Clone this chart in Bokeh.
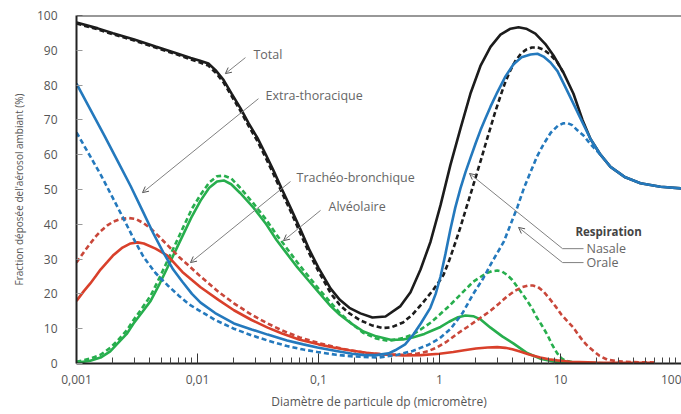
from bokeh.plotting import figure
from bokeh.models import FixedTicker, Label, Arrow, OpenHead, Span
from bokeh.embed import file_html
from bokeh.resources import INLINE

# ---------------- data (diameter in micrometres, deposited fraction in %) ----------------
TOTAL_NASAL_D = [0.001, 0.0015, 0.002, 0.003, 0.0045, 0.0065, 0.0088, 0.0105, 0.0123, 0.0141, 0.0164,
                 0.0192, 0.0227, 0.0265, 0.0312, 0.0365, 0.0424, 0.05, 0.0587, 0.071, 0.0845, 0.1, 0.126,
                 0.15, 0.18, 0.222, 0.279, 0.358, 0.476, 0.576, 0.697, 0.843, 1.02, 1.23, 1.49, 1.8,
                 2.18, 2.64, 3.19, 3.86, 4.5, 5.2, 6.2, 7.5, 8.75, 10.6, 12.8, 15.2, 17.7, 21.4, 25.9,
                 34.3, 45.8, 67, 100]
TOTAL_NASAL_Y = [98, 96.3, 94.9, 93.1, 91.1, 89.3, 87.8, 87, 86.2, 84.3, 81.5,
                 77.5, 73.3, 69, 64.9, 60.2, 55.5, 50, 44.8, 38.5, 32.5, 27.5, 21.5,
                 18.3, 16, 14.4, 13.2, 13.5, 16.5, 20.5, 27, 35, 45.5, 57, 67.5, 77.5,
                 85.5, 91, 94.5, 96.2, 96.6, 96.2, 94.8, 91.8, 88.5, 83.5, 77.5, 70, 64.5, 60, 56.5,
                 53.5, 51.8, 50.8, 50.3]

TOTAL_ORAL_D = [0.001, 0.0015, 0.002, 0.003, 0.0045, 0.0065, 0.0088, 0.0105, 0.0123, 0.0141, 0.0164,
                0.0192, 0.0227, 0.0265, 0.0312, 0.0365, 0.0424, 0.05, 0.0587, 0.071, 0.0845, 0.1, 0.126,
                0.15, 0.18, 0.222, 0.279, 0.34, 0.4, 0.5, 0.6, 0.73, 0.88, 1.0, 1.08, 1.2, 1.36, 1.5,
                1.64, 1.8, 1.99, 2.2, 2.4, 2.65, 2.9, 3.2, 3.51, 3.86, 4.25, 4.7, 5.2, 5.8, 6.5, 7.24,
                8.2, 9.44, 10.6]
TOTAL_ORAL_Y = [97.7, 96, 94.6, 92.8, 90.8, 89, 87.4, 86.5, 85.6, 83.6, 80.8,
                76.8, 72.5, 68.2, 64, 59.2, 54.5, 49, 43.8, 37.3, 31.4, 26.5, 20.2,
                16.8, 14.4, 12.4, 10.9, 10.2, 10.4, 11.8, 14.1, 17.5, 21, 23.7, 25.5, 29.5, 35, 39.5,
                44, 48.5, 53.5, 58.5, 63, 68, 72.5, 77, 81, 84.3, 87, 89, 90.2, 90.8, 90.8, 90.2,
                88.8, 86.5, 83.5]

ET_NASAL_D = [0.001, 0.0013, 0.0017, 0.0022, 0.0028, 0.0035, 0.0043, 0.0052, 0.0063, 0.0075, 0.009,
              0.0106, 0.014, 0.02, 0.028, 0.038, 0.055, 0.075, 0.098, 0.14, 0.19, 0.24, 0.3, 0.38,
              0.43, 0.52, 0.61, 0.7, 0.84, 0.93, 1.02, 1.12, 1.23, 1.35, 1.49, 1.64, 1.8, 2.0, 2.18,
              2.4, 2.64, 3.01, 3.51, 4.09, 4.77, 5.65, 6.45, 7.24, 8.27, 9.44, 10.6, 12.1, 14.6,
              17.7, 21.4, 25.9, 34.3, 45.8, 67, 100]
ET_NASAL_Y = [80.4, 73, 65.5, 58, 51, 44, 37.5, 32, 27, 23.5, 20,
              17.5, 14.5, 11.5, 9.8, 8.3, 6.6, 5.5, 4.6, 3.6, 2.8, 2.4, 2.4, 2.9,
              3.8, 5.5, 8.4, 11.5, 16, 20, 25, 31.5, 38.5, 44.8, 50.3, 55, 59, 63.5, 67,
              70.5, 73.8, 78, 82.5, 86, 88, 88.8, 89, 88.2, 86.5, 84, 80.5, 76.4, 70.5,
              64.5, 60, 56.5, 53.5, 51.8, 50.8, 50.3]

ET_ORAL_D = [0.001, 0.0013, 0.0016, 0.002, 0.0025, 0.003, 0.0036, 0.0045, 0.00565, 0.007, 0.0085,
             0.0106, 0.014, 0.02, 0.028, 0.038, 0.055, 0.075, 0.098, 0.14, 0.2, 0.31, 0.45, 0.6,
             0.8, 1.0, 1.24, 1.55, 1.9, 2.3, 2.7, 3.4, 4.41, 5.0, 5.65, 6.4, 7.24, 8.3, 9.5, 10.5,
             11.4, 12.5, 13.8, 15.5, 17.7, 19.5, 21.4]
ET_ORAL_Y = [66.4, 59.5, 54, 47.5, 41, 35.5, 30.5, 26, 22.5, 19.5, 17,
             15, 12.5, 10, 8.1, 6.6, 5, 4, 3.3, 2.5, 2.0, 1.7, 2.5, 3.6,
             5.3, 7.2, 10, 14.5, 20, 24.5, 29, 35, 45, 50.5, 55, 59.5, 63, 66.3, 68.3, 69,
             69.1, 68.5, 67, 65.5, 63, 61.5, 60]

TB_NASAL_D = [0.001, 0.00115, 0.0013, 0.00145, 0.00158, 0.0018, 0.002, 0.0024, 0.0028, 0.0032, 0.0036,
              0.0045, 0.00565, 0.0075, 0.0106, 0.015, 0.02, 0.028, 0.038, 0.05, 0.07, 0.1, 0.133,
              0.18, 0.25, 0.35, 0.5, 0.7, 1.0, 1.3, 1.6, 2.0, 2.5, 3.0, 3.5, 4.0, 4.7, 5.5, 6.8, 8,
              9.4, 12, 20, 60]
TB_NASAL_Y = [18, 20.8, 23, 25.2, 27, 29.2, 31, 33.3, 34.5, 34.8, 34.5,
              33, 31, 26.3, 21.9, 18.2, 15.3, 12.5, 10.3, 8.6, 6.8, 5.5, 4.6,
              3.8, 3.1, 2.6, 2.3, 2.4, 2.8, 3.3, 3.8, 4.3, 4.6, 4.7, 4.5, 4.1, 3.4, 2.6, 1.7, 1.2,
              0.9, 0.5, 0.3, 0.2]

TB_ORAL_D = [0.001, 0.00115, 0.0013, 0.00145, 0.00158, 0.0018, 0.002, 0.0023, 0.0027, 0.0031, 0.0036,
             0.0041, 0.0048, 0.00565, 0.007, 0.0088, 0.0106, 0.015, 0.02, 0.028, 0.038, 0.05, 0.07,
             0.1, 0.133, 0.18, 0.25, 0.35, 0.5, 0.65, 0.8, 0.95, 1.15, 1.41, 1.7, 2.0, 2.3, 2.65,
             3.1, 3.6, 4.2, 4.8, 5.4, 5.9, 6.5, 7.2, 8.26, 9.2, 10.2, 11.5, 12.8, 14, 15.5, 17,
             18.9, 21, 24.4, 30, 40, 60]
TB_ORAL_Y = [29, 32, 34.5, 36.6, 38, 39.7, 40.7, 41.5, 41.8, 41.5, 40.3,
             38.8, 36.5, 34, 30.7, 27.6, 25, 20.5, 17.3, 14, 11.5, 9.5, 7.5,
             5.9, 4.8, 3.8, 3, 2.6, 2.5, 2.8, 3.5, 4.6, 6.3, 8.6, 10.5, 12.2, 13.7, 15.2,
             17.2, 19.2, 20.9, 21.9, 22.4, 22.4, 22, 20.8, 18.3, 16.2, 14, 12, 10.3, 8.3, 6.3, 4.8,
             3.5, 2.2, 1.1, 0.6, 0.4, 0.3]

AL_NASAL_D = [0.001, 0.0013, 0.00158, 0.0019, 0.00218, 0.0026, 0.00296, 0.0035, 0.0041, 0.0048,
              0.00565, 0.0066, 0.0077, 0.009, 0.0106, 0.0125, 0.0145, 0.0165, 0.019, 0.0225, 0.029,
              0.037, 0.045, 0.055, 0.067, 0.082, 0.1, 0.126, 0.15, 0.19, 0.235, 0.3, 0.394, 0.5,
              0.6, 0.75, 0.9, 1.02, 1.2, 1.4, 1.64, 1.9, 2.2, 2.64, 3.3, 4.1, 5.3, 6.8, 9.4, 15,
              30, 60]
AL_NASAL_Y = [0.2, 0.8, 1.7, 3.5, 5.7, 8.5, 11.5, 14.8, 18, 22.5,
              27.6, 32.5, 37.4, 42.3, 46.8, 50.5, 52.3, 52.6, 51.5, 49, 44.8,
              40, 35.5, 31.5, 27.6, 24, 20.5, 16.5, 14, 11.3, 9.2, 7.8, 6.8, 6.9,
              7.5, 8.5, 9.7, 10.5, 12, 13.2, 13.8, 13.6, 12.6, 10.3, 7.8, 5.7, 3, 1.4, 0.4, 0.1,
              0, 0]

AL_ORAL_D = [0.001, 0.0013, 0.00158, 0.0019, 0.00218, 0.0026, 0.00296, 0.0035, 0.0041, 0.0048,
             0.00565, 0.0066, 0.0077, 0.009, 0.0106, 0.0125, 0.0145, 0.0165, 0.019, 0.0225, 0.029,
             0.037, 0.045, 0.055, 0.067, 0.082, 0.1, 0.126, 0.15, 0.19, 0.235, 0.3, 0.38, 0.5, 0.6,
             0.7, 0.85, 1.0, 1.2, 1.49, 1.9, 2.4, 2.7, 3.0, 3.3, 3.6, 4.0, 4.4, 4.85, 5.3, 5.8,
             6.3, 7.0, 7.8, 8.5, 9.4, 10.2, 11, 13, 15, 30, 60]
AL_ORAL_Y = [0.5, 1.4, 2.5, 4.5, 6.5, 9.5, 12.5, 16, 19.5, 24.3,
             29.5, 34.5, 39.5, 44.5, 48.5, 52, 53.8, 54, 53.2, 50.5, 46,
             41.3, 37, 33, 29, 25.2, 21.5, 17.5, 14.5, 11.3, 8.8, 7.2, 6.5, 7.3, 8.3,
             9.8, 11.8, 14, 16.5, 19.8, 23.5, 25.8, 26.5, 26.7, 26.4, 25.5, 24, 22, 20, 18, 16,
             13.5, 11, 8.2, 5.5, 2.9, 1.5, 0.8, 0.3, 0.2, 0, 0]

X_TICKS = [0.001, 0.01, 0.1, 1.0, 10.0, 100.0]
X_TICK_LABELS = ["0,001", "0,01", "0,1", "1", "10", "100"]
X_MINOR = [m * t for t in [0.001, 0.01, 0.1, 1.0, 10.0] for m in range(2, 10)]
Y_TICKS = [0, 10, 20, 30, 40, 50, 60, 70, 80, 90, 100]

# annotation texts: (text, x, y, bold)
ANNOT_TEXT = [
    ("Total", 0.029, 88.8, False),
    ("Extra-thoracique", 0.0365, 77.0, False),
    ("Trachéo-bronchique", 0.0658, 53.4, False),
    ("Alvéolaire", 0.121, 45.1, False),
    ("Respiration", 13.3, 37.9, True),
    ("Nasale", 16.4, 33.0, False),
    ("Orale", 16.4, 29.0, False),
]
# leader lines: (x0, y0, x1, y1, arrowhead)
ANNOT_LEADERS = [
    (0.0249, 87.9, 0.0170, 83.3, True),
    (0.0319, 76.1, 0.00351, 49.1, True),
    (0.0587, 52.3, 0.00875, 29.0, True),
    (0.104, 44.0, 0.0514, 35.3, True),
    (15.5, 33.0, 10.4, 33.0, False),
    (10.4, 33.0, 1.77, 54.6, True),
    (15.5, 29.0, 10.4, 29.0, False),
    (10.4, 29.0, 4.50, 39.1, True),
]

BLACK = "#1c1c1c"
BLUE = "#2479bd"
RED = "#d9402b"
RED_D = "#c9473a"
GREEN = "#27ae4d"
FONT = "Open Sans"

p = figure(width=681, height=414, x_axis_type="log", x_range=(0.001, 100), y_range=(0, 100),
           output_backend="svg", toolbar_location=None,
           min_border_left=76, min_border_right=0, min_border_top=15, min_border_bottom=51)
p.outline_line_color = None
p.grid.visible = False
p.background_fill_color = "white"
p.border_fill_color = "white"

LW = 2.6
p.line(AL_ORAL_D, AL_ORAL_Y, line_color=GREEN, line_width=LW, line_dash="5 3")
p.line(AL_NASAL_D, AL_NASAL_Y, line_color=GREEN, line_width=LW)
p.line(TB_ORAL_D, TB_ORAL_Y, line_color=RED_D, line_width=LW, line_dash="5 3")
p.line(TB_NASAL_D, TB_NASAL_Y, line_color=RED, line_width=LW)
p.line(TOTAL_ORAL_D, TOTAL_ORAL_Y, line_color=BLACK, line_width=LW, line_dash="5 3")
p.line(TOTAL_NASAL_D, TOTAL_NASAL_Y, line_color=BLACK, line_width=LW)
p.line(ET_ORAL_D, ET_ORAL_Y, line_color=BLUE, line_width=LW, line_dash="5 3")
p.line(ET_NASAL_D, ET_NASAL_Y, line_color=BLUE, line_width=LW)

# axes
xa = p.xaxis[0]
xa.ticker = FixedTicker(ticks=X_TICKS, minor_ticks=X_MINOR)
xa.major_label_overrides = {t: lab for t, lab in zip(X_TICKS, X_TICK_LABELS)}
xa.major_tick_in = 10
xa.major_tick_out = 0
xa.minor_tick_in = 6
xa.minor_tick_out = 0
xa.major_tick_line_color = "#333333"
xa.minor_tick_line_color = "#444444"
xa.axis_line_color = "#222222"
xa.axis_line_width = 2
xa.major_label_standoff = 11
xa.major_label_text_font = FONT
xa.major_label_text_font_size = "12px"
xa.major_label_text_color = "#555555"
xa.axis_label = "Diamètre de particule dp (micromètre)"
xa.axis_label_text_font = FONT
xa.axis_label_text_font_size = "12px"
xa.axis_label_text_font_style = "normal"
xa.axis_label_text_color = "#555555"
xa.axis_label_standoff = 6

ya = p.yaxis[0]
ya.ticker = FixedTicker(ticks=Y_TICKS)
ya.major_tick_in = 6
ya.major_tick_out = 0
ya.minor_tick_line_color = None
ya.major_tick_line_color = "#999999"
ya.axis_line_color = "#222222"
ya.axis_line_width = 2
ya.major_label_standoff = 19
ya.major_label_text_font = FONT
ya.major_label_text_font_size = "12px"
ya.major_label_text_color = "#555555"
ya.axis_label = "Fraction déposée del'aérosol ambiant (%)"
ya.axis_label_text_font = FONT
ya.axis_label_text_font_size = "10px"
ya.axis_label_text_font_style = "normal"
ya.axis_label_text_color = "#555555"
ya.axis_label_standoff = 8

p.add_layout(Span(location=100, dimension="width", line_color="#333333", line_width=2))

for txt, x, y, bold in ANNOT_TEXT:
    p.add_layout(Label(x=x, y=y, text=txt, text_font=FONT,
                       text_font_size="11.5px" if bold else "12.5px",
                       text_color="#444444" if bold else "#666666",
                       text_font_style="bold" if bold else "normal",
                       text_baseline="middle", text_align="left"))

for x0, y0, x1, y1, head in ANNOT_LEADERS:
    p.add_layout(Arrow(x_start=x0, y_start=y0, x_end=x1, y_end=y1,
                       line_color="#808080", line_width=1,
                       end=OpenHead(size=6, line_color="#555555", line_width=1) if head else None))

open("out.html", "w").write(file_html(p, INLINE))
